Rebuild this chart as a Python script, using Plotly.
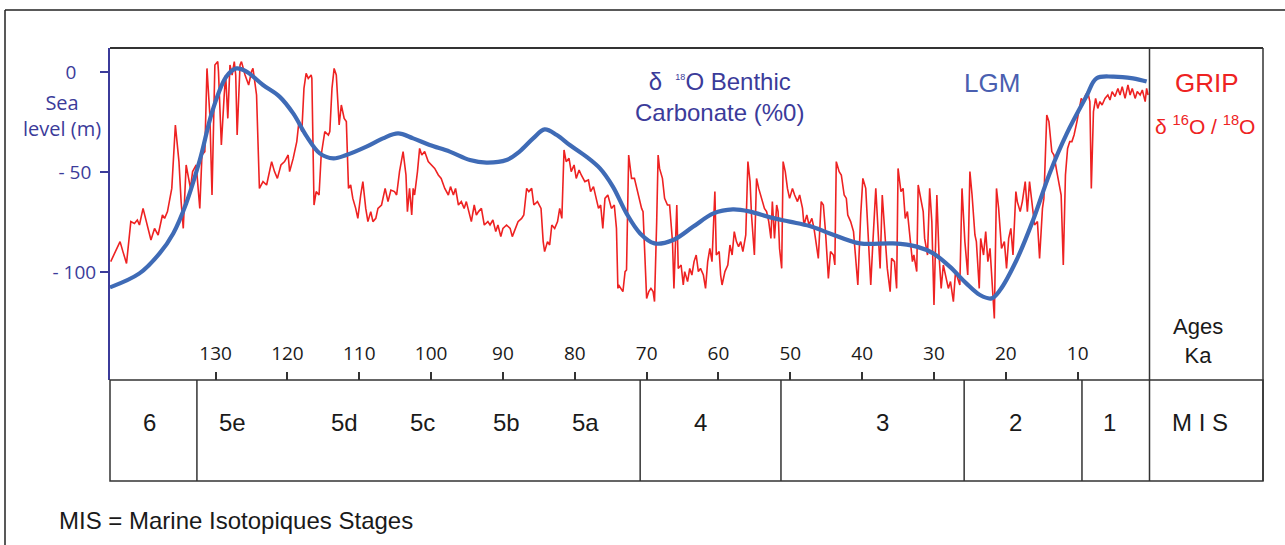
import plotly.graph_objects as go

# ---------------- data ----------------
blue_age = [144.7, 140.6, 137.8, 135.9, 134.1, 132.2, 130.4, 128.5, 127.1, 125.7, 123.4, 121.1,
            119.2, 117.3, 115.5, 113.6, 111.8, 109.0, 106.7, 104.6, 102.5, 100.2, 97.4, 94.6,
            92.3, 89.5, 87.7, 85.8, 84.2, 82.5, 80.7, 78.4, 76.5, 74.7, 72.8, 70.9, 68.9, 66.3,
            63.5, 60.7, 58.0, 55.6, 52.8, 50.1, 47.3, 44.5, 40.3, 35.7, 32.4, 30.1, 27.8, 25.5,
            23.6, 22.0, 20.8, 18.5, 16.2, 13.9, 11.5, 8.8, 7.4, 5.1, 2.3, 0.4]
blue_sea = [-107.7, -100.7, -90.7, -80.7, -65.7, -44.0, -19.0, -2.3, 1.8, 0.2, -6.5, -12.3,
            -20.7, -32.3, -40.7, -43.2, -41.5, -37.3, -33.2, -30.7, -33.2, -36.5, -39.8, -44.0,
            -45.3, -44.0, -39.8, -33.2, -28.7, -31.5, -36.5, -42.3, -48.2, -57.3, -70.7, -80.7,
            -85.7, -84.0, -77.3, -70.7, -68.7, -69.8, -72.7, -74.8, -77.0, -80.7, -85.7, -85.7,
            -87.3, -90.7, -97.3, -105.7, -111.5, -113.2, -109.0, -94.0, -74.0, -50.7, -30.7,
            -12.3, -3.2, -2.3, -3.2, -4.8]

red_age = [144.6, 144.0, 143.3, 142.9, 142.4, 141.8, 141.3, 140.9, 140.6, 140.1, 139.6, 139.0,
           138.5, 138.0, 137.4, 137.1, 136.7, 136.1, 135.6, 135.1, 134.8, 134.5, 134.1, 133.5,
           133.2, 132.7, 132.2, 131.9, 131.5, 131.2, 130.8, 130.5, 130.1, 129.7, 129.6, 129.2,
           128.8, 128.6, 128.3, 128.0, 127.7, 127.4, 127.2, 127.0, 126.6, 126.4, 125.9, 125.4,
           125.0, 124.8, 124.3, 123.9, 123.4, 122.9, 122.6, 122.2, 121.8, 121.4, 120.9, 120.4,
           119.9, 119.7, 119.2, 118.7, 118.4, 118.0, 117.7, 117.4, 117.1, 116.7, 116.6, 116.3,
           116.0, 115.6, 115.3, 114.8, 114.3, 114.1, 113.8, 113.5, 113.2, 112.8, 112.5, 112.1,
           111.8, 111.5, 111.2, 110.9, 110.5, 110.2, 109.8, 109.5, 109.1, 108.8, 108.4, 108.1,
           107.7, 107.4, 106.9, 106.4, 106.0, 105.6, 105.1, 104.8, 104.4, 103.9, 103.5, 103.3,
           103.0, 102.7, 102.5, 102.3, 101.9, 101.6, 101.3, 100.9, 100.4, 100.0, 99.5, 99.0,
           98.6, 98.1, 97.6, 97.3, 96.9, 96.6, 96.2, 95.8, 95.4, 95.1, 94.7, 94.4, 94.0, 93.7,
           93.4, 93.0, 92.6, 92.1, 91.8, 91.4, 91.0, 90.7, 90.3, 90.0, 89.5, 89.0, 88.7, 88.3,
           87.9, 87.4, 87.1, 86.7, 86.4, 86.0, 85.7, 85.2, 84.7, 84.4, 84.2, 83.8, 83.5, 83.2,
           82.8, 82.4, 82.1, 81.8, 81.5, 81.2, 80.8, 80.5, 80.1, 79.8, 79.4, 79.1, 78.6, 78.1,
           77.8, 77.4, 77.1, 76.7, 76.4, 76.1, 75.8, 75.4, 74.9, 74.5, 74.2, 74.0, 73.9, 73.5,
           73.3, 73.0, 72.8, 72.5, 72.1, 71.7, 71.4, 71.1, 70.7, 70.5, 70.3, 70.0, 69.7, 69.4,
           69.1, 68.9, 68.6, 68.4, 68.2, 67.8, 67.5, 67.1, 66.8, 66.4, 66.2, 65.8, 65.6, 65.2,
           64.9, 64.7, 64.3, 64.0, 63.7, 63.4, 63.1, 62.8, 62.5, 62.1, 61.8, 61.5, 61.2, 60.9,
           60.5, 60.3, 59.9, 59.7, 59.5, 59.1, 58.7, 58.4, 58.1, 57.8, 57.5, 57.2, 56.9, 56.6,
           56.2, 55.9, 55.6, 55.4, 55.0, 54.7, 54.4, 54.0, 53.6, 53.3, 53.0, 52.7, 52.5, 52.2,
           51.9, 51.7, 51.5, 51.2, 51.0, 50.7, 50.4, 50.1, 49.7, 49.4, 49.0, 48.7, 48.3, 48.1,
           47.7, 47.4, 47.0, 46.7, 46.4, 46.1, 45.7, 45.4, 45.1, 44.7, 44.4, 44.0, 43.8, 43.6,
           43.2, 42.9, 42.5, 42.2, 42.0, 41.6, 41.2, 40.9, 40.6, 40.2, 39.9, 39.5, 39.2, 38.8,
           38.5, 38.1, 37.9, 37.5, 37.2, 36.8, 36.5, 36.1, 35.9, 35.5, 35.2, 35.0, 34.6, 34.3,
           34.0, 33.7, 33.4, 33.0, 32.8, 32.4, 32.2, 31.8, 31.5, 31.3, 30.9, 30.6, 30.3, 30.0,
           29.6, 29.3, 29.0, 28.7, 28.4, 28.0, 27.7, 27.3, 27.0, 26.7, 26.4, 26.1, 25.7, 25.3,
           25.0, 24.7, 24.3, 24.1, 23.7, 23.5, 23.1, 22.8, 22.5, 22.2, 21.9, 21.6, 21.3, 21.0,
           20.6, 20.2, 19.9, 19.6, 19.3, 19.0, 18.6, 18.4, 18.0, 17.7, 17.3, 17.0, 16.7, 16.3,
           16.0, 15.6, 15.3, 14.9, 14.7, 14.3, 14.0, 13.6, 13.3, 12.9, 12.6, 12.3, 12.0, 11.7,
           11.4, 11.1, 10.8, 10.5, 10.1, 9.8, 9.5, 9.2, 8.9, 8.6, 8.3, 8.1, 7.8, 7.5, 7.2, 6.9,
           6.6, 6.2, 5.8, 5.5, 5.2, 4.8, 4.4, 4.1, 3.8, 3.4, 3.0, 2.7, 2.4, 2.0, 1.7, 1.3, 1.0,
           0.6, 0.4, 0.2]
red_sea = [-94.8, -89.8, -84.8, -89.8, -95.7, -74.8, -75.7, -74.0, -76.5, -68.2, -74.8, -84.0,
           -78.2, -81.5, -71.5, -73.2, -69.8, -58.2, -26.5, -44.8, -64.8, -78.2, -46.5, -58.2,
           -49.8, -46.5, -68.2, -41.5, -39.8, 1.8, -21.5, -61.5, 3.5, 5.2, 0.2, -36.5,
           -11.5, -1.5, -23.2, 3.5, -1.5, 5.2, -1.5, -31.5, 3.5, 5.2, -1.5, -6.5,
           0.2, 1.8, -11.5, -58.2, -54.8, -56.5, -51.5, -44.8, -49.8, -53.2, -46.5, -44.8,
           -41.5, -49.8, -43.2, -34.8, -24.8, -29.8, -8.2, -0.7, -3.2, -1.5, -3.2, -66.5,
           -59.8, -61.5, -41.5, -29.8, -31.5, -29.8, -8.2, 1.8, -1.5, -26.5, -16.5, -23.2,
           -24.8, -58.2, -56.5, -63.2, -68.2, -73.2, -61.5, -54.8, -68.2, -74.8, -69.8, -74.8,
           -73.2, -68.2, -66.5, -58.2, -64.8, -59.0, -59.8, -61.5, -49.8, -39.8, -51.5, -69.8,
           -58.2, -71.5, -58.2, -61.5, -49.8, -38.2, -41.5, -39.8, -44.8, -46.5, -48.2, -51.5,
           -53.2, -58.2, -61.5, -57.3, -61.5, -58.2, -66.5, -64.8, -68.2, -64.8, -69.8, -74.8,
           -66.5, -71.5, -69.8, -68.2, -76.5, -74.8, -76.5, -74.0, -79.8, -76.5, -82.3, -78.2,
           -76.5, -78.2, -82.3, -78.2, -74.8, -73.2, -71.5, -58.2, -59.8, -58.2, -66.5, -64.8,
           -68.2, -84.8, -89.8, -84.8, -86.5, -76.5, -78.2, -74.8, -68.2, -73.2, -39.0, -44.8,
           -43.2, -49.8, -46.5, -53.2, -49.0, -51.5, -54.8, -54.0, -59.8, -57.3, -61.5, -68.2,
           -66.5, -78.2, -63.2, -61.5, -68.2, -66.5, -78.2, -108.2, -106.5, -109.0, -109.8,
           -99.8, -99.0, -41.5, -53.2, -53.2, -58.2, -61.5, -68.2, -69.8, -91.5, -113.2, -109.8,
           -108.2, -109.8, -114.8, -74.8, -41.5, -48.2, -53.2, -63.2, -66.5, -66.5, -84.8,
           -108.2, -66.5, -98.2, -96.5, -106.5, -99.8, -104.8, -98.2, -101.5, -94.8, -91.5,
           -99.8, -98.2, -101.5, -108.2, -94.8, -88.2, -94.8, -59.8, -91.5, -89.8, -101.5,
           -106.5, -99.8, -96.5, -86.5, -91.5, -79.8, -84.8, -87.3, -84.8, -89.8, -81.5, -44.8,
           -54.8, -71.5, -91.5, -53.2, -58.2, -63.2, -68.2, -69.8, -74.8, -83.2, -64.8, -83.2,
           -66.5, -69.8, -88.2, -98.2, -44.8, -49.8, -58.2, -63.2, -58.2, -61.5, -64.8, -61.5,
           -68.2, -76.5, -71.5, -76.5, -73.2, -78.2, -84.8, -93.2, -64.8, -66.5, -79.8, -103.2,
           -89.8, -91.5, -96.5, -44.8, -49.8, -51.5, -61.5, -63.2, -71.5, -74.8, -79.8, -91.5,
           -106.5, -71.5, -53.2, -58.2, -79.8, -106.5, -84.8, -58.2, -71.5, -98.2, -61.5, -83.2,
           -98.2, -109.8, -93.2, -94.8, -108.2, -48.2, -59.8, -58.2, -73.2, -69.8, -81.5, -94.8,
           -91.5, -99.8, -56.5, -63.2, -69.8, -83.2, -91.5, -58.2, -74.8, -116.5, -61.5, -91.5,
           -108.2, -96.5, -101.5, -108.2, -104.8, -114.8, -99.8, -103.2, -106.5, -58.2, -84.8,
           -101.5, -49.8, -61.5, -81.5, -84.8, -108.2, -83.2, -91.5, -79.8, -94.8, -88.2, -108.2,
           -123.2, -58.2, -68.2, -88.2, -84.8, -98.2, -83.2, -78.2, -91.5, -59.8, -64.8, -69.8,
           -64.8, -54.8, -69.8, -54.8, -66.5, -76.5, -74.8, -93.2, -68.2, -63.2, -21.5, -24.8,
           -39.8, -41.5, -49.8, -54.8, -61.5, -96.5, -51.5, -38.2, -34.8, -34.8, -31.5, -24.8,
           -18.2, -13.2, -14.8, -11.5, -9.8, -14.8, -58.2, -19.8, -13.2, -18.2, -14.8, -16.5,
           -13.2, -11.5, -14.0, -9.8, -12.3, -8.2, -11.5, -7.3, -13.2, -6.5, -11.5, -8.2, -13.2,
           -9.8, -11.5, -9.0, -14.8, -8.2, -11.5]

x_tick_vals = [130, 120, 110, 100, 90, 80, 70, 60, 50, 40, 30, 20, 10]
y_tick_vals = [0, -50, -100]
y_tick_text = ["0\u00a0\u00a0\u00a0\u00a0", "- 50\u00a0", "- 100"]

mis_bounds = [132.6, 70.9, 51.3, 25.8, 9.4, 0.0]
mis_labels = ["6", "5e", "5d", "5c", "5b", "5a", "4", "3", "2", "1", "M I S"]
mis_label_age = [139.2, 127.6, 112.0, 101.2, 89.5, 78.5, 62.5, 37.2, 18.7, 5.6, -7.0]

# ---------------- style ----------------
PURPLE = "#3b3b9a"
BLUE = "#3f6bb6"
RED = "#ee2222"
FRAME = "#333333"
W, H = 1285, 545
L, R, T, B = 110, 22, 48, 64
PW, PH = W - L - R, H - T - B
band_top = (481 - 380) / PH  # paper y of the band / upper panel boundary


def px(xp):
    return (xp - L) / PW


def py(yp):
    return (H - B - yp) / PH


fig = go.Figure()
fig.add_trace(go.Scatter(x=red_age, y=red_sea, mode="lines",
                         line=dict(color=RED, width=1.6), hoverinfo="skip"))
fig.add_trace(go.Scatter(x=blue_age, y=blue_sea, mode="lines",
                         line=dict(color=BLUE, width=4.2, shape="spline", smoothing=1.0),
                         hoverinfo="skip"))

shapes = []
shapes.append(dict(type="rect", xref="paper", yref="paper", x0=0, x1=1, y0=0, y1=band_top,
                   line=dict(color=FRAME, width=1.5)))
shapes.append(dict(type="line", xref="paper", yref="paper", x0=0, x1=1, y0=1, y1=1,
                   line=dict(color=FRAME, width=2)))
shapes.append(dict(type="line", xref="paper", yref="paper", x0=1, x1=1, y0=0, y1=1,
                   line=dict(color=FRAME, width=1.5)))
for b in mis_bounds:
    y1 = 1 if b == 0.0 else band_top
    shapes.append(dict(type="line", xref="x", yref="paper", x0=b, x1=b, y0=0, y1=y1,
                       line=dict(color=FRAME, width=1.5)))
shapes.append(dict(type="line", xref="paper", yref="paper",
                   x0=px(5), x1=px(5), y0=py(560), y1=py(10),
                   line=dict(color="#222222", width=1.5)))
shapes.append(dict(type="line", xref="paper", yref="paper",
                   x0=px(5), x1=px(1300), y0=py(10), y1=py(10),
                   line=dict(color="#222222", width=1.5)))

ann = []


def add_text(x, y, text, size, color, family="Liberation Sans, Arial", xref="paper",
             xanchor="center"):
    ann.append(dict(x=x, y=y, xref=xref, yref="paper", text=text, showarrow=False,
                    xanchor=xanchor, yanchor="middle",
                    font=dict(family=family, size=size, color=color)))


for lab, a in zip(mis_labels, mis_label_age):
    add_text(a, py(422), lab, 24, "#1a1a1a", xref="x")

add_text(px(719), py(97),
         "δ  <sup><span style='font-size:9px'>18</span></sup>O Benthic<br>Carbonate (%0)",
         24, PURPLE)
add_text(px(992), py(83), "LGM", 26, "#4a5fb0")
add_text(px(1207), py(83), "GRIP", 26, RED)
add_text(px(1205), py(125), "δ <sup>16</sup>O / <sup>18</sup>O", 21, RED)
add_text(px(1198), py(341), "Ages<br>Ka", 22, "#1a1a1a")
add_text(px(62), py(115), "Sea<br>level (m)", 20, PURPLE, family="Open Sans")
add_text(px(57), py(520), "MIS = Marine Isotopiques Stages", 24, "#1a1a1a", xanchor="left")

fig.update_layout(
    width=W, height=H,
    margin=dict(l=L, r=R, t=T, b=B, pad=0),
    paper_bgcolor="white", plot_bgcolor="white",
    showlegend=False,
    shapes=shapes, annotations=ann,
    xaxis=dict(range=[144.7, -15.8], showgrid=False, zeroline=False, showline=False,
               tickvals=x_tick_vals, ticks="inside", ticklen=8, tickwidth=1.5,
               tickcolor=FRAME, ticklabelposition="inside", ticklabelstandoff=9,
               tickfont=dict(family="Open Sans", size=19, color="#1a1a1a"),
               anchor="y"),
    yaxis=dict(domain=[band_top, 1], range=[-154, 12], showgrid=False, zeroline=False,
               showline=True, linecolor=PURPLE, linewidth=2,
               tickvals=y_tick_vals, ticktext=y_tick_text, ticks="outside", ticklen=8,
               tickwidth=1.5, tickcolor=PURPLE,
               tickfont=dict(family="Open Sans", size=19, color=PURPLE)),
)

fig.write_html("out.html", post_script="document.body.style.margin='0';",
               config={"displayModeBar": False})
